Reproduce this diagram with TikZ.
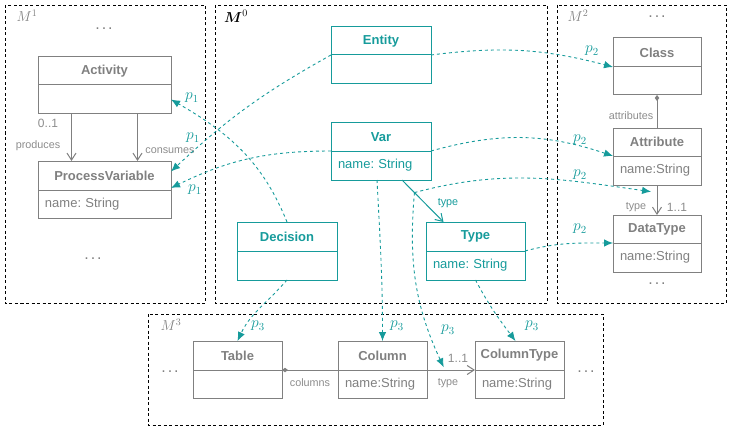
\documentclass[tikz,border=0pt]{standalone}
\usepackage[no-math]{fontspec}
\setmainfont{Liberation Sans}
\usepackage{amsmath}
\usetikzlibrary{arrows.meta,calc}
\frenchspacing
\definecolor{tealc}{RGB}{22,155,155}
\definecolor{grayc}{RGB}{128,128,128}
\definecolor{graylab}{RGB}{140,140,140}
\tikzset{
  frame/.style={draw=black, dash pattern=on 3pt off 2.5pt, line width=0.9pt},
  gbox/.style={draw=grayc, text=grayc, line width=1pt},
  tbox/.style={draw=tealc, text=tealc, line width=1pt},
  part/.style={rectangle, inner sep=0pt, outer sep=0pt, anchor=north west},
  map/.style={draw=tealc, dash pattern=on 3pt off 3pt, line width=0.9pt, -{Latex[length=9pt,width=7.5pt]}},
  garrow/.style={draw=grayc, line width=1pt, -{Straight Barb[length=7pt,width=9pt]}},
  tarrow/.style={draw=tealc, line width=1pt, -{Straight Barb[length=7pt,width=9pt]}},
  gdiam/.style={draw=grayc, fill=grayc, line width=1pt, {Diamond[length=6pt,width=4.5pt]}-},
  slab/.style={text=graylab, font=\fontsize{10.8}{12}\selectfont, inner sep=0pt},
  mlab/.style={text=graylab, font=\fontsize{12}{14}\selectfont, inner sep=0pt},
  plab/.style={text=tealc, font=\fontsize{14.4}{16}\selectfont, inner sep=0pt, scale=1.08, transform shape},
  dotlab/.style={text=grayc, font=\fontsize{16}{18}\selectfont, inner sep=0pt},
  mname/.style={font=\fontsize{14.4}{16}\selectfont, inner sep=0pt},
}
\newcommand\udots{.\kern2pt.\kern2pt.}
\newcommand\umlbox[9]{%
  \pgfmathsetmacro\ubw{#5-#3}\pgfmathsetmacro\utw{#5-#3-14}%
  \pgfmathsetmacro\uht{#6-#4}\pgfmathsetmacro\uha{#7-#6}%
  \node[part,#2,minimum width=\ubw pt,minimum height=\uht pt,font=\bfseries\fontsize{13}{15}\selectfont] (#1-t) at (#3,#4) {#8};
  \node[part,#2,minimum width=\ubw pt,minimum height=\uha pt,text width=\utw pt,inner xsep=7pt,align=left,font=\fontsize{13}{15}\selectfont] (#1-a) at (#3,#6) {#9};
}
\begin{document}
\begin{tikzpicture}[x=1pt,y=-1pt]
\useasboundingbox (0,0) rectangle (729,428);
% frames
\draw[frame] (5,5) rectangle (205,303);
\draw[frame] (215,5) rectangle (547,303);
\draw[frame] (557,5) rectangle (726,303);
\draw[frame] (148,314) rectangle (603,425);
\node[mname,text=grayc] (m1) at (27,16) {$M^1$};
\node[mname,text=black] (m0) at (236,16) {$\boldsymbol{M}^0$};
\node[mname,text=grayc] (m2) at (578,16) {$M^2$};
\node[mname,text=grayc] (m3) at (171,325) {$M^3$};
% dots
\node[dotlab] (d1) at (104,29) {\udots};
\node[dotlab] (d2) at (93,259) {\udots};
\node[dotlab] (d3) at (657,17) {\udots};
\node[dotlab] (d4) at (657,284) {\udots};
\node[dotlab] (d5) at (170,372) {\udots};
\node[dotlab] (d6) at (586,372) {\udots};
% boxes
\umlbox{act}{gbox}{38}{57}{171}{85}{114}{Activity}{}
\umlbox{pv}{gbox}{38}{161}{171}{190}{218}{ProcessVariable}{name: String}
\umlbox{ent}{tbox}{331}{27}{431}{55}{84}{Entity}{}
\umlbox{var}{tbox}{331}{123}{431}{151}{180}{Var}{name: String}
\umlbox{dec}{tbox}{237}{222}{337}{251}{280}{Decision}{}
\umlbox{typ}{tbox}{426}{222}{525}{251}{280}{Type}{name: String}
\umlbox{cls}{gbox}{613}{38}{701}{67}{95}{Class}{}
\umlbox{att}{gbox}{613}{128}{701}{156}{185}{Attribute}{name:String}
\umlbox{dt}{gbox}{613}{215}{701}{243}{272}{DataType}{name:String}
\umlbox{tab}{gbox}{193}{341}{282}{370}{398}{Table}{}
\umlbox{col}{gbox}{338}{341}{427}{370}{398}{Column}{name:String}
\umlbox{ct}{gbox}{475}{341}{564}{370}{398}{ColumnType}{name:String}
% gray associations
\draw[garrow] ([xshift=-33pt]act-a.south) -- ([xshift=-33pt]pv-t.north);
\draw[garrow] ([xshift=33pt]act-a.south) -- ([xshift=33pt]pv-t.north);
\draw[gdiam] (cls-a.south) -- (att-t.north);
\draw[garrow] (att-a.south) -- (dt-t.north);
\draw[gdiam] (tab-t.south east) -- (col-t.south west);
\draw[garrow] (col-t.south east) -- (ct-t.south west);
\node[mlab] (l01) at (48,123) {0..1};
\node[slab] (lprod) at (38,146) {produces};
\node[slab] (lcons) at (170,151) {consumes};
\node[slab] (lattr) at (631,116) {attributes};
\node[slab] (ltype2) at (636,207) {type};
\node[mlab] (l11a) at (677,207) {1..1};
\node[slab] (lcols) at (310,383) {columns};
\node[mlab] (l11b) at (458,358) {1..1};
\node[slab] (ltype3) at (448,383) {type};
% teal association
\coordinate (vts) at ([xshift=21pt]var-a.south);
\coordinate (vte) at ([xshift=-32pt]typ-t.north);
\draw[tarrow] (vts) -- (vte);
\node[slab,text=tealc] (ltype0) at (448,203) {type};
\coordinate (vt) at ($(vts)!0.3!(vte)$);
% mappings
\draw[map] (ent-t.south west) to[bend right=7] ([yshift=4pt]pv-t.east);
\draw[map] (dec-t.north) to[out=112,in=-30] (act-a.east);
\draw[map] (var-t.south west) to[bend right=13] ([yshift=2pt]pv-t.south east);
\draw[map] (ent-t.south east) to[bend left=11] (cls-t.south west);
\draw[map] (var-t.south east) to[bend left=17] (att-t.south west);
\draw[map] (typ-t.south east) to[out=15,in=180] (dt-t.south west);
\coordinate (adt) at ($(att-a.south)!0.25!(dt-t.north)$);
\draw[map, shorten >=6pt] (vt) to[out=15,in=172] (adt);
\coordinate (cct) at ($(col-t.south east)!0.375!(ct-t.south west)$);
\draw[map, shorten >=3pt] (vt) to[out=265,in=115] (cct);
\draw[map] (dec-a.south) to[out=229,in=65] (tab-t.north);
\draw[map] ([xshift=-4pt]var-a.south) to[out=-87,in=90] (col-t.north);
\draw[map] (typ-a.south) to[out=-62,in=127] ([xshift=-4pt]ct-t.north);
% p labels
\node[plab] (p1a) at (192,98) {$p_1$};
\node[plab] (p1b) at (193,138) {$p_1$};
\node[plab] (p1c) at (195,190) {$p_1$};
\node[plab] (p2a) at (592,51) {$p_2$};
\node[plab] (p2b) at (580,140) {$p_2$};
\node[plab] (p2c) at (580,175) {$p_2$};
\node[plab] (p2d) at (580,229) {$p_2$};
\node[plab] (p3a) at (258,326) {$p_3$};
\node[plab] (p3b) at (397,326) {$p_3$};
\node[plab] (p3c) at (448,330) {$p_3$};
\node[plab] (p3d) at (532,326) {$p_3$};
\end{tikzpicture}
\end{document}
